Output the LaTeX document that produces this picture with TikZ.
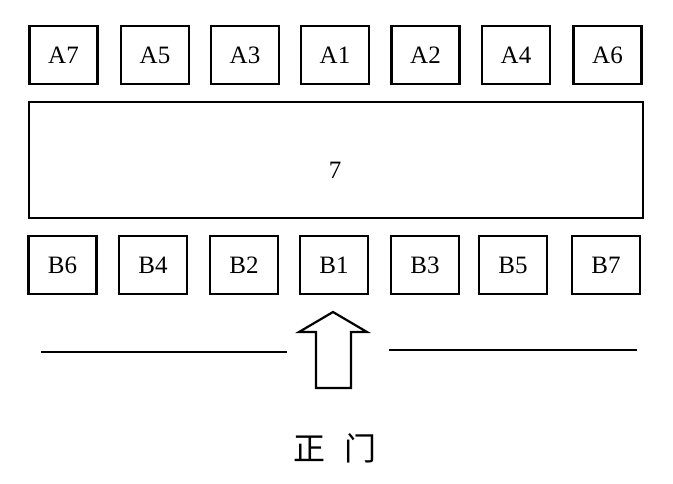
\documentclass[tikz,border=0pt]{standalone}
\usepackage{fontspec}
\setmainfont{Liberation Serif}
\newfontfamily\cjk{Noto Sans CJK SC}
\begin{document}
\begin{tikzpicture}[x=0.5pt,y=-0.5pt,
  booth/.style={draw,line width=1.1pt,minimum width=34pt,minimum height=29pt,inner sep=0pt,font=\fontsize{12.5}{14}\selectfont},
  hall/.style={draw,line width=1.1pt,minimum width=307pt,minimum height=58pt,inner sep=0pt},
  road/.style={line width=1.1pt},
  gate/.style={line width=1.1pt,line join=miter}]
\useasboundingbox (0,0) rectangle (673,483);
% top row
\node[booth] (A7) at (63.5,55) {A7};
\node[booth] (A5) at (155,55) {A5};
\node[booth] (A3) at (245,55) {A3};
\node[booth] (A1) at (335,55) {A1};
\node[booth] (A2) at (425.5,55) {A2};
\node[booth] (A4) at (516,55) {A4};
\node[booth] (A6) at (607.5,55) {A6};
% hall
\node[hall] (H) at (336,160) {};
\node[font=\fontsize{12.5}{14}\selectfont] (H7) at (335,170) {7};
% bottom row
\node[booth] (B6) at (62.5,265) {B6};
\node[booth] (B4) at (153,265) {B4};
\node[booth] (B2) at (244,265) {B2};
\node[booth] (B1) at (334,265) {B1};
\node[booth] (B3) at (425,265) {B3};
\node[booth] (B5) at (513,265) {B5};
\node[booth] (B7) at (606,265) {B7};
% road
\coordinate (L1) at (41,352);
\coordinate (L2) at (287,352);
\coordinate (R1) at (389,350);
\coordinate (R2) at (637,350);
\draw[road] (L1) -- (L2);
\draw[road] (R1) -- (R2);
% entrance arrow
\draw[gate] (333,312) -- (367,332) -- (351,332) -- (351,388) -- (316,388) -- (316,332) -- (299,332) -- cycle;
% label
\node[font=\cjk\fontsize{16}{18}\selectfont,inner sep=0pt] (gate) at (335,448) {正\hspace{0.6em}门};
\end{tikzpicture}
\end{document}
